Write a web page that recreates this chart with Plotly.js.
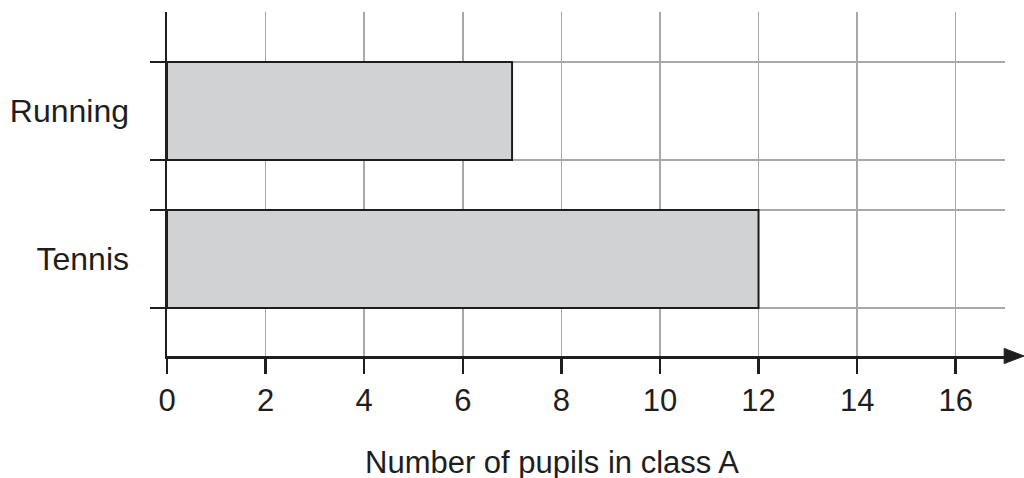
<!DOCTYPE html>
<html>
<head>
<meta charset="utf-8">
<script src="https://cdn.plot.ly/plotly-3.0.1.min.js"></script>
<style>html,body{margin:0;padding:0;background:#fff;}#chart{width:1024px;height:478px;}</style>
</head>
<body>
<div id="chart"></div>
<script>
// Data
const categories = ['Running', 'Tennis'];
const pupils = [7, 12];
const xTickVals = [0, 2, 4, 6, 8, 10, 12, 14, 16];
const xTitle = 'Number of pupils in class A';

const barWidth = 0.662;
const yPos = categories.map((c, i) => categories.length - 1 - i);
const edgeVals = [];
yPos.forEach(p => { edgeVals.push(p - barWidth / 2, p + barWidth / 2); });
const yRange = [-0.655, 1.669];

const ink = '#1e1e1e';
const fontFam = '"Liberation Sans", Arial, Helvetica, sans-serif';

const trace = {
  type: 'bar',
  orientation: 'h',
  x: pupils,
  y: yPos,
  width: barWidth,
  marker: { color: '#d1d2d4', line: { color: ink, width: 2 } },
  hoverinfo: 'skip'
};

const layout = {
  width: 1024, height: 478,
  margin: { l: 167, r: 19, t: 12, b: 122 },
  paper_bgcolor: '#fff', plot_bgcolor: '#fff',
  showlegend: false,
  font: { family: fontFam, color: ink, size: 31 },
  xaxis: {
    range: [0, 17],
    tickmode: 'array', tickvals: xTickVals,
    ticks: 'outside', ticklen: 15, tickwidth: 2.5, tickcolor: ink,
    showline: true, linecolor: ink, linewidth: 2.5,
    showgrid: true, gridcolor: '#a8a8a8', gridwidth: 1.5,
    zeroline: false,
    tickfont: { size: 31, family: fontFam, color: ink },
    fixedrange: true
  },
  yaxis: {
    range: yRange,
    tickmode: 'array', tickvals: edgeVals, ticktext: edgeVals.map(() => ''),
    ticks: 'outside', ticklen: 15, tickwidth: 2.5, tickcolor: ink,
    showline: true, linecolor: ink, linewidth: 2.5,
    showgrid: true, gridcolor: '#a8a8a8', gridwidth: 1.5,
    zeroline: false,
    fixedrange: true
  },
  yaxis2: {
    overlaying: 'y',
    range: yRange,
    tickmode: 'array', tickvals: yPos, ticktext: categories,
    ticks: '', showgrid: false, zeroline: false, showline: false,
    ticklabelstandoff: 37,
    tickfont: { size: 32, family: fontFam, color: ink },
    fixedrange: true
  },
  annotations: [
    {
      text: xTitle, xref: 'paper', yref: 'paper',
      x: 0.4594, y: -0.311, xanchor: 'center', yanchor: 'middle',
      showarrow: false, font: { size: 31, family: fontFam, color: ink }
    }
  ],
  shapes: [
    {
      type: 'path', xref: 'paper', yref: 'paper',
      path: 'M 0.999 0.022 L 1.0227 0 L 0.999 -0.022 Z',
      fillcolor: ink, line: { color: ink, width: 1 }
    }
  ]
};

// invisible trace to activate yaxis2 (category labels)
const labelTrace = {
  type: 'scatter', x: [0, 0], y: yPos, yaxis: 'y2',
  mode: 'markers', marker: { opacity: 0 }, hoverinfo: 'skip'
};

Plotly.newPlot('chart', [trace, labelTrace], layout, { displayModeBar: false, staticPlot: true });
</script>
</body>
</html>
